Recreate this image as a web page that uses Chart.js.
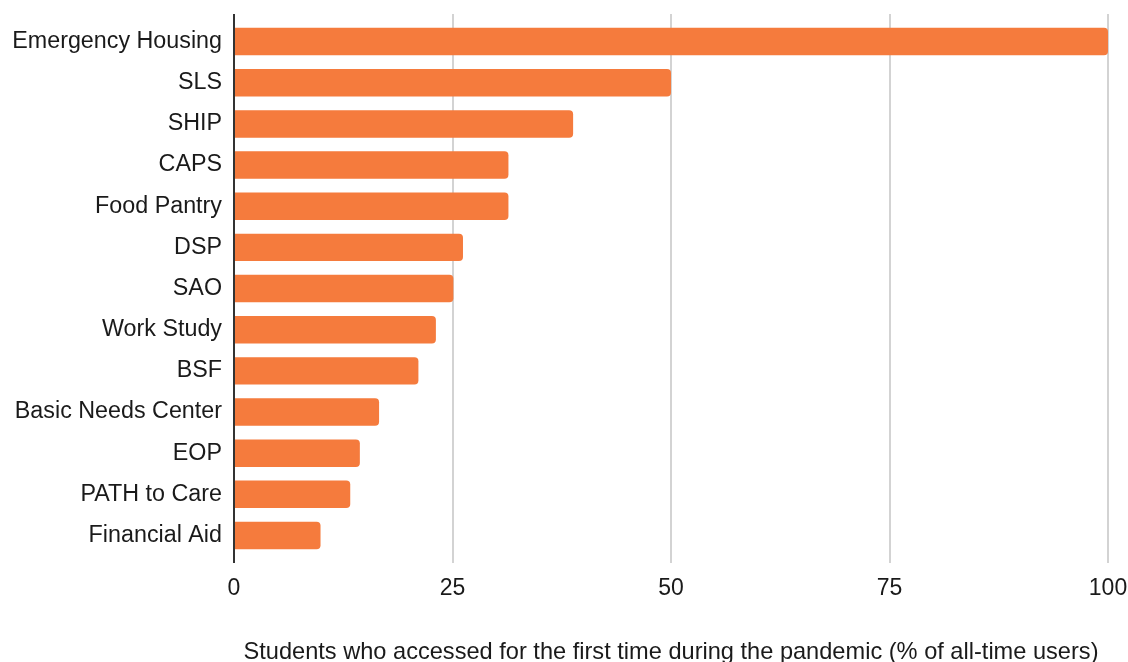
<!DOCTYPE html>
<html>
<head>
<meta charset="utf-8">
<script src="https://cdn.jsdelivr.net/npm/chart.js@4/dist/chart.umd.min.js"></script>
<style>
  html, body { margin: 0; padding: 0; background: #fff; }
  #wrap { width: 1128px; height: 662px; position: relative; }
</style>
</head>
<body>
<div id="wrap"><canvas id="chart"></canvas></div>
<script>
// ===== Data =====
const services = [
  "Emergency Housing", "SLS", "SHIP", "CAPS", "Food Pantry", "DSP", "SAO",
  "Work Study", "BSF", "Basic Needs Center", "EOP", "PATH to Care", "Financial Aid"
];
const firstTimeShare = [100, 50, 38.8, 31.4, 31.4, 26.2, 25.1, 23.1, 21.1, 16.6, 14.4, 13.3, 9.9];
const axisTicks = [0, 25, 50, 75, 100];
const axisTitle = "Students who accessed for the first time during the pandemic (% of all-time users)";

// ===== Styles =====
const FONT = "'Liberation Sans', Arial, sans-serif";
const BAR_COLOR = "#f57b3d";
const GRID_COLOR = "#d3d3d3";
const AXIS_COLOR = "#333333";
const TEXT_COLOR = "#1a1a1a";

const gridColor = ctx => (ctx.tick && ctx.tick.value === 0 ? AXIS_COLOR : GRID_COLOR);

// keep the plot area fixed: drop the extra room Chart.js reserves for edge labels
const noSidePadding = scale => { scale.paddingLeft = 0; scale.paddingRight = 0; };

new Chart(document.getElementById("chart"), {
  type: "bar",
  data: {
    labels: services,
    datasets: [{
      data: firstTimeShare,
      backgroundColor: BAR_COLOR,
      borderRadius: 4,
      borderSkipped: "start",
      barPercentage: 0.667,
      categoryPercentage: 1
    }]
  },
  options: {
    indexAxis: "y",
    responsive: true,
    maintainAspectRatio: false,
    animation: false,
    layout: { padding: { top: 14, right: 20, bottom: 0, left: 0 } },
    plugins: {
      legend: { display: false },
      tooltip: { enabled: false }
    },
    scales: {
      x: {
        type: "linear",
        position: "bottom",
        min: 0,
        max: 100,
        afterBuildTicks: scale => { scale.ticks = axisTicks.map(v => ({ value: v })); },
        afterFit: noSidePadding,
        grid: { color: gridColor, lineWidth: 2, tickLength: 7 },
        border: { display: false },
        ticks: {
          padding: 12,
          color: TEXT_COLOR,
          font: { family: FONT, size: 23 }
        },
        title: {
          display: true,
          text: axisTitle,
          color: TEXT_COLOR,
          font: { family: FONT, size: 23.6 },
          padding: { top: 24, bottom: -5 }
        }
      },
      xTop: {
        type: "linear",
        axis: "x",
        position: "top",
        min: 0,
        max: 100,
        afterBuildTicks: scale => { scale.ticks = axisTicks.map(v => ({ value: v })); },
        afterFit: noSidePadding,
        grid: { color: gridColor, lineWidth: 2, tickLength: 7, drawOnChartArea: false },
        border: { display: false },
        ticks: { display: false }
      },
      y: {
        z: 1,
        grid: { display: false, drawTicks: false },
        border: { display: true, color: AXIS_COLOR, width: 2 },
        ticks: {
          padding: 12,
          color: TEXT_COLOR,
          font: { family: FONT, size: 23.3 }
        },
        afterFit: scale => {
          scale.width = 234;
          scale.paddingTop = 0;
          scale.paddingBottom = 0;
        }
      }
    }
  }
});
</script>
</body>
</html>
